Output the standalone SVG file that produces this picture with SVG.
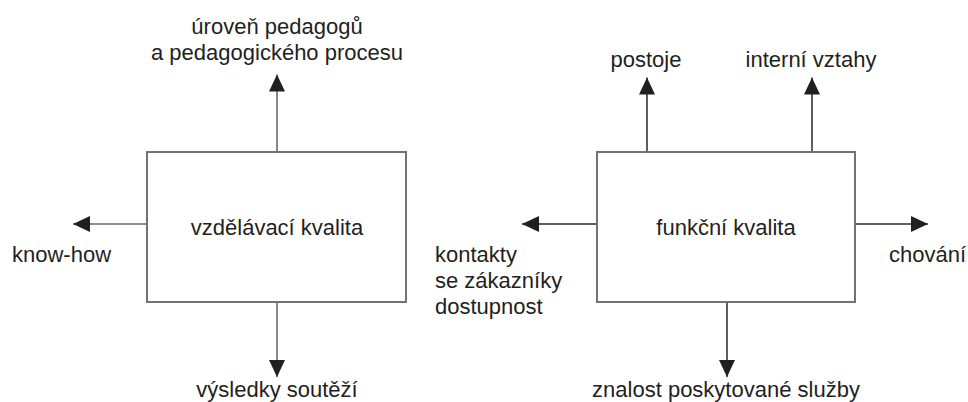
<svg xmlns="http://www.w3.org/2000/svg" width="968" height="402" viewBox="0 0 968 402">
<defs>
<style>
.box{fill:#fff;stroke:#727272;stroke-width:2}
.t{font-family:"Liberation Sans",Arial,sans-serif;font-size:22px;fill:#231f20}
.c{text-anchor:middle}
.la{stroke:#6a6a6a;stroke-width:1.6;fill:none}
.ra{stroke:#2a2a2a;stroke-width:1.5;fill:none}
</style>
<marker id="ah" markerUnits="userSpaceOnUse" markerWidth="17" markerHeight="16" viewBox="0 0 17 16" refX="17" refY="8" orient="auto">
<path d="M0,0 L17,8 L0,16 Z" fill="#231f20"/>
</marker>
</defs>
<rect width="968" height="402" fill="#fff"/>
<g id="connectors">
<line class="la" x1="277" y1="152" x2="277" y2="74.5" marker-end="url(#ah)"/>
<line class="la" x1="147" y1="224" x2="73" y2="224" marker-end="url(#ah)"/>
<line class="la" x1="277" y1="302" x2="277" y2="377" marker-end="url(#ah)"/>
<line class="ra" x1="647" y1="152" x2="647" y2="77.5" marker-end="url(#ah)"/>
<line class="ra" x1="812" y1="152" x2="812" y2="77.5" marker-end="url(#ah)"/>
<line class="ra" x1="597" y1="224" x2="522" y2="224" marker-end="url(#ah)"/>
<line class="ra" x1="855" y1="224" x2="928" y2="224" marker-end="url(#ah)"/>
<line class="ra" x1="727" y1="302" x2="727" y2="377" marker-end="url(#ah)"/>
</g>
<g id="vzdelavaci">
<rect class="box" x="147" y="152" width="259" height="150"/>
<text class="t c" x="277" y="235">vzdělávací kvalita</text>
</g>
<g id="funkcni">
<rect class="box" x="597" y="152" width="258" height="150"/>
<text class="t c" x="726" y="235">funkční kvalita</text>
</g>
<g id="uroven">
<text class="t c" x="277" y="34">úroveň pedagogů</text>
<text class="t c" x="277" y="60">a pedagogického procesu</text>
</g>
<g id="knowhow"><text class="t" x="12" y="262">know-how</text></g>
<g id="vysledky"><text class="t c" x="277" y="397">výsledky soutěží</text></g>
<g id="postoje"><text class="t c" x="646" y="67">postoje</text></g>
<g id="interni"><text class="t c" x="811" y="67">interní vztahy</text></g>
<g id="kontakty">
<text class="t" x="435" y="262">kontakty</text>
<text class="t" x="435" y="288">se zákazníky</text>
<text class="t" x="435" y="314">dostupnost</text>
</g>
<g id="chovani"><text class="t" x="889" y="262">chování</text></g>
<g id="znalost"><text class="t c" x="726" y="397">znalost poskytované služby</text></g>
</svg>
